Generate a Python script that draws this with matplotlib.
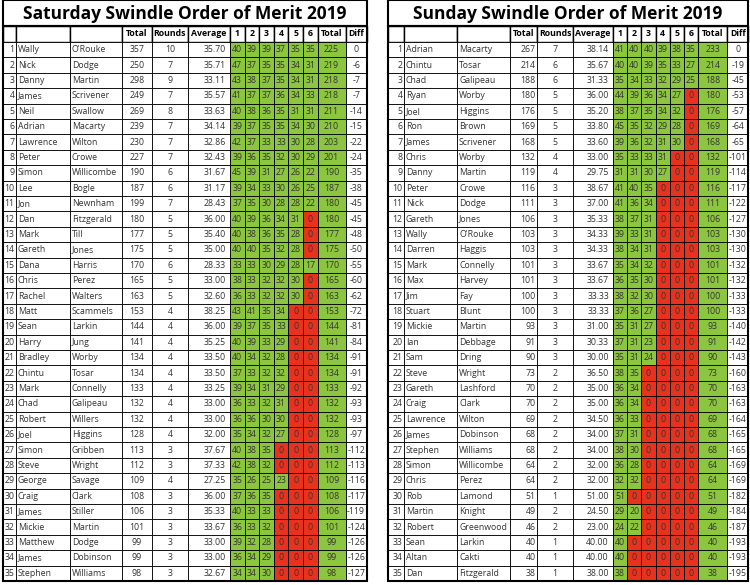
import matplotlib.pyplot as plt
from matplotlib.patches import Rectangle

plt.rcParams['font.family'] = ['Open Sans', 'DejaVu Sans']

# Saturday table
sat_title = "Saturday Swindle Order of Merit 2019"
sat_first = ["Wally", "Nick", "Danny", "James", "Neil", "Adrian", "Lawrence", "Peter", "Simon", "Lee",
             "Jon", "Dan", "Mark", "Gareth", "Dana", "Chris", "Rachel", "Matt", "Sean", "Harry",
             "Bradley", "Chintu", "Mark", "Chad", "Robert", "Joel", "Simon", "Steve", "George", "Craig",
             "James", "Mickie", "Matthew", "James", "Stephen"]
sat_last = ["O'Rouke", "Dodge", "Martin", "Scrivener", "Swallow", "Macarty", "Wilton", "Crowe", "Willicombe", "Bogle",
            "Newnham", "Fitzgerald", "Till", "Jones", "Harris", "Perez", "Walters", "Scammels", "Larkin", "Jung",
            "Worby", "Tosar", "Connelly", "Galipeau", "Willers", "Higgins", "Gribben", "Wright", "Savage", "Clark",
            "Stiller", "Martin", "Dodge", "Dobinson", "Williams"]
sat_total = [357, 250, 298, 249, 269, 239, 230, 227, 190, 187, 199, 180, 177, 175, 170, 165, 163, 153, 144, 141,
             134, 134, 133, 132, 132, 128, 113, 112, 109, 108, 106, 101, 99, 99, 98]
sat_rounds = [10, 7, 9, 7, 8, 7, 7, 7, 6, 6, 7, 5, 5, 5, 6, 5, 5, 4, 4, 4, 4, 4, 4, 4, 4, 4, 3, 3, 4, 3, 3, 3, 3, 3, 3]
sat_avg = ["35.70", "35.71", "33.11", "35.57", "33.63", "34.14", "32.86", "32.43", "31.67", "31.17",
           "28.43", "36.00", "35.40", "35.00", "28.33", "33.00", "32.60", "38.25", "36.00", "35.25",
           "33.50", "33.50", "33.25", "33.00", "33.00", "32.00", "37.67", "37.33", "27.25", "36.00",
           "35.33", "33.67", "33.00", "33.00", "32.67"]
sat_scores = [[40, 39, 39, 37, 35, 35], [47, 37, 35, 35, 34, 31], [43, 38, 37, 35, 34, 31], [41, 37, 37, 36, 34, 33],
              [40, 38, 36, 35, 31, 31], [39, 37, 35, 35, 34, 30], [42, 37, 33, 33, 30, 28], [39, 36, 35, 32, 30, 29],
              [45, 39, 31, 27, 26, 22], [39, 34, 33, 30, 26, 25], [37, 35, 30, 28, 28, 22], [40, 39, 36, 34, 31, 0],
              [40, 38, 36, 35, 28, 0], [40, 40, 35, 32, 28, 0], [33, 33, 30, 29, 28, 17], [38, 33, 32, 32, 30, 0],
              [36, 33, 32, 32, 30, 0], [43, 41, 35, 34, 0, 0], [39, 37, 35, 33, 0, 0], [40, 39, 33, 29, 0, 0],
              [40, 34, 32, 28, 0, 0], [37, 33, 32, 32, 0, 0], [39, 34, 31, 29, 0, 0], [36, 33, 32, 31, 0, 0],
              [36, 36, 30, 30, 0, 0], [35, 34, 32, 27, 0, 0], [40, 38, 35, 0, 0, 0], [42, 38, 32, 0, 0, 0],
              [35, 26, 25, 23, 0, 0], [37, 36, 35, 0, 0, 0], [40, 33, 33, 0, 0, 0], [36, 33, 32, 0, 0, 0],
              [39, 32, 28, 0, 0, 0], [36, 34, 29, 0, 0, 0], [34, 34, 30, 0, 0, 0]]
sat_best = [225, 219, 218, 218, 211, 210, 203, 201, 190, 187, 180, 180, 177, 175, 170, 165, 163, 153, 144, 141,
            134, 134, 133, 132, 132, 128, 113, 112, 109, 108, 106, 101, 99, 99, 98]
sat_diff = [0, -6, -7, -7, -14, -15, -22, -24, -35, -38, -45, -45, -48, -50, -55, -60, -62, -72, -81, -84,
            -91, -91, -92, -93, -93, -97, -112, -113, -116, -117, -119, -124, -126, -126, -127]

# Sunday table
sun_title = "Sunday Swindle Order of Merit 2019"
sun_first = ["Adrian", "Chintu", "Chad", "Ryan", "Joel", "Ron", "James", "Chris", "Danny", "Peter",
             "Nick", "Gareth", "Wally", "Darren", "Mark", "Max", "Jim", "Stuart", "Mickie", "Ian",
             "Sam", "Steve", "Gareth", "Craig", "Lawrence", "James", "Stephen", "Simon", "Chris", "Rob",
             "Martin", "Robert", "Sean", "Altan", "Dan"]
sun_last = ["Macarty", "Tosar", "Galipeau", "Worby", "Higgins", "Brown", "Scrivener", "Worby", "Martin", "Crowe",
            "Dodge", "Jones", "O'Rouke", "Haggis", "Connelly", "Harvey", "Fay", "Blunt", "Martin", "Debbage",
            "Dring", "Wright", "Lashford", "Clark", "Wilton", "Dobinson", "Williams", "Willicombe", "Perez", "Lamond",
            "Knight", "Greenwood", "Larkin", "Cakti", "Fitzgerald"]
sun_total = [267, 214, 188, 180, 176, 169, 168, 132, 119, 116, 111, 106, 103, 103, 101, 101, 100, 100, 93, 91,
             90, 73, 70, 70, 69, 68, 68, 64, 64, 51, 49, 46, 40, 40, 38]
sun_rounds = [7, 6, 6, 5, 5, 5, 5, 4, 4, 3, 3, 3, 3, 3, 3, 3, 3, 3, 3, 3, 3, 2, 2, 2, 2, 2, 2, 2, 2, 1, 2, 2, 1, 1, 1]
sun_avg = ["38.14", "35.67", "31.33", "36.00", "35.20", "33.80", "33.60", "33.00", "29.75", "38.67",
           "37.00", "35.33", "34.33", "34.33", "33.67", "33.67", "33.33", "33.33", "31.00", "30.33",
           "30.00", "36.50", "35.00", "35.00", "34.50", "34.00", "34.00", "32.00", "32.00", "51.00",
           "24.50", "23.00", "40.00", "40.00", "38.00"]
sun_scores = [[41, 40, 40, 39, 38, 35], [40, 40, 39, 35, 33, 27], [35, 34, 33, 32, 29, 25], [44, 39, 36, 34, 27, 0],
              [38, 37, 35, 34, 32, 0], [45, 35, 32, 29, 28, 0], [39, 36, 32, 31, 30, 0], [35, 33, 33, 31, 0, 0],
              [31, 31, 30, 27, 0, 0], [41, 40, 35, 0, 0, 0], [41, 36, 34, 0, 0, 0], [38, 37, 31, 0, 0, 0],
              [39, 33, 31, 0, 0, 0], [38, 34, 31, 0, 0, 0], [35, 34, 32, 0, 0, 0], [36, 35, 30, 0, 0, 0],
              [38, 32, 30, 0, 0, 0], [37, 36, 27, 0, 0, 0], [35, 31, 27, 0, 0, 0], [37, 31, 23, 0, 0, 0],
              [35, 31, 24, 0, 0, 0], [38, 35, 0, 0, 0, 0], [36, 34, 0, 0, 0, 0], [36, 34, 0, 0, 0, 0],
              [36, 33, 0, 0, 0, 0], [37, 31, 0, 0, 0, 0], [38, 30, 0, 0, 0, 0], [36, 28, 0, 0, 0, 0],
              [32, 32, 0, 0, 0, 0], [51, 0, 0, 0, 0, 0], [29, 20, 0, 0, 0, 0], [24, 22, 0, 0, 0, 0],
              [40, 0, 0, 0, 0, 0], [40, 0, 0, 0, 0, 0], [38, 0, 0, 0, 0, 0]]
sun_best = [233, 214, 188, 180, 176, 169, 168, 132, 119, 116, 111, 106, 103, 103, 101, 101, 100, 100, 93, 91,
            90, 73, 70, 70, 69, 68, 68, 64, 64, 51, 49, 46, 40, 40, 38]
sun_diff = [0, -19, -45, -53, -57, -64, -65, -101, -114, -117, -122, -127, -130, -130, -132, -132, -133, -133,
            -140, -142, -143, -160, -163, -163, -164, -165, -165, -169, -169, -182, -184, -187, -193, -193, -195]

headers = ["", "", "", "Total", "Rounds", "Average", "1", "2", "3", "4", "5", "6", "Total", "Diff"]
GREEN = "#8cc63f"
RED = "#e8321e"


def draw_table(ax, x0, widths, title, first, last, total, rounds, avg, scores, best, diff, total_align):
    edges = [x0]
    for w in widths:
        edges.append(edges[-1] + w)
    x1 = edges[-1]
    title_h, head_h, row_h = 26, 16, 15.4
    top_rows = title_h + head_h
    n = len(first)
    bottom = top_rows + n * row_h
    # title
    ax.add_patch(Rectangle((x0, 0), x1 - x0, title_h, facecolor="white", edgecolor="black", lw=1.5))
    ax.text((x0 + x1) / 2, title_h / 2 + 1, title, ha="center", va="center", fontsize=12.5, fontweight="bold")
    # header
    for j, h in enumerate(headers):
        ax.add_patch(Rectangle((edges[j], title_h), widths[j], head_h, facecolor="white", edgecolor="black", lw=1))
        ax.text((edges[j] + edges[j + 1]) / 2, title_h + head_h / 2, h, ha="center", va="center",
                fontsize=6.3, fontweight="bold")
    for i in range(n):
        y = top_rows + i * row_h
        yc = y + row_h / 2
        cells = [str(i + 1), first[i], last[i], str(total[i]), str(rounds[i]), avg[i]] + \
                [str(s) for s in scores[i]] + [str(best[i]), str(diff[i])]
        for j, c in enumerate(cells):
            if 6 <= j <= 11:
                fc = GREEN if scores[i][j - 6] > 0 else RED
            elif j == 12:
                fc = GREEN
            else:
                fc = "white"
            ax.add_patch(Rectangle((edges[j], y), widths[j], row_h, facecolor=fc, edgecolor="black", lw=0.6))
            if j == 0:
                ax.text(edges[1] - 1.5, yc, c, ha="right", va="center", fontsize=6.3, color="#333333")
            elif j in (1, 2):
                ax.text(edges[j] + 2, yc, c, ha="left", va="center", fontsize=6.3, color="#333333")
            elif j == 3 and total_align == "right":
                ax.text(edges[4] - 1.5, yc, c, ha="right", va="center", fontsize=6.3, color="#333333")
            elif j == 5:
                ax.text(edges[6] - 4, yc, c, ha="right", va="center", fontsize=6.3, color="#333333")
            else:
                ax.text((edges[j] + edges[j + 1]) / 2, yc, c, ha="center", va="center", fontsize=6.3,
                        color="#333333")
    ax.add_patch(Rectangle((x0, title_h), x1 - x0, bottom - title_h, facecolor="none", edgecolor="black", lw=1.5))


fig = plt.figure(figsize=(7.5, 5.85), dpi=100)
ax = fig.add_axes([0, 0, 1, 1])
ax.set_xlim(0, 750)
ax.set_ylim(585, 0)
ax.axis("off")

draw_table(ax, 3, [13, 54, 52, 30, 36, 42, 14.6, 14.6, 14.6, 14.6, 14.6, 14.6, 28, 21],
           sat_title, sat_first, sat_last, sat_total, sat_rounds, sat_avg, sat_scores, sat_best, sat_diff, "center")
draw_table(ax, 388, [16, 53, 53, 27, 36, 40, 14.2, 14.2, 14.2, 14.2, 14.2, 14.2, 29, 21],
           sun_title, sun_first, sun_last, sun_total, sun_rounds, sun_avg, sun_scores, sun_best, sun_diff, "right")

fig.savefig("out.png", dpi=100)
